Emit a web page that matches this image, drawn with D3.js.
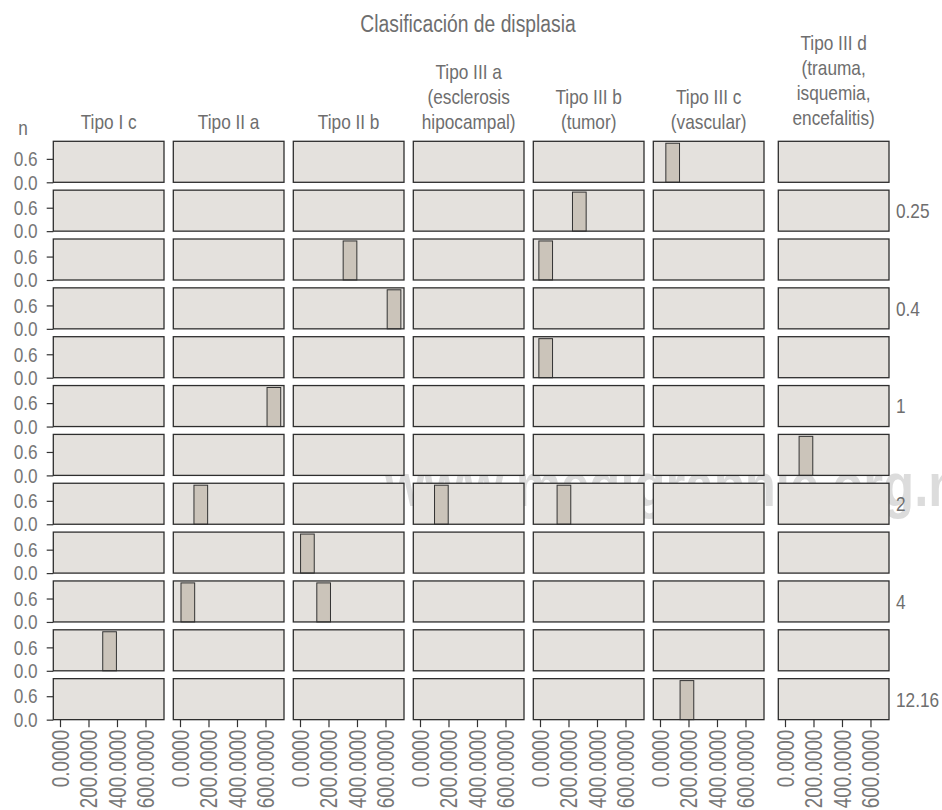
<!DOCTYPE html>
<html>
<head>
<meta charset="utf-8">
<script src="https://cdn.jsdelivr.net/npm/d3@7"></script>
<style>
  html, body { margin: 0; padding: 0; background: #fff; }
  svg { display: block; }
  text { font-family: "Liberation Sans", Arial, sans-serif; }
</style>
</head>
<body>
<svg id="chart" width="942" height="810"></svg>
<script>
// ---------------- data ----------------
const title = "Clasificación de displasia";
const yTitle = "n";
const columns = [
  "Tipo I c",
  "Tipo II a",
  "Tipo II b",
  "Tipo III a\n(esclerosis\nhipocampal)",
  "Tipo III b\n(tumor)",
  "Tipo III c\n(vascular)",
  "Tipo III d\n(trauma,\nisquemia,\nencefalitis)"
];
const rowLabels = ["", "0.25", "", "0.4", "", "1", "", "2", "", "4", "", "12.16"];
// one observation per panel: row index, column index, value (bin centre), count
const obsRow   = [0, 1, 2, 2, 3, 4, 5, 6, 7, 7, 7, 8, 9, 9, 10, 11];
const obsCol   = [5, 4, 2, 4, 2, 4, 1, 6, 1, 3, 4, 2, 1, 2, 0, 5];
const obsValue = [89, 276, 351, 40, 660, 40, 659, 147, 146, 150, 168, 52, 55, 166, 348, 189];
const obsCount = [1, 1, 1, 1, 1, 1, 1, 1, 1, 1, 1, 1, 1, 1, 1, 1];
const binWidth = 96;
const xTicks = [0, 200, 400, 600];
const yTicks = [0, 0.6];
const watermark = "www.medigraphic.org.mx";

// ---------------- layout ----------------
const panelW = 110.7, panelH = 41;
const colLeft = i => 53.3 + i * 120 + (i === 6 ? 5 : 0);
const rowTop = j => 141.3 + j * 48.85;

const x = d3.scaleLinear().domain([-47, 730]).range([0, panelW]);
const y = d3.scaleLinear().domain([0, 1.05]).range([panelH, 0]);

const textCol = "#6e6e6e";
const svg = d3.select("#chart");
const narrowNodes = [];

// watermark (behind panels)
narrowNodes.push(svg.append("text")
  .attr("x", 385).attr("y", 506)
  .style("font-weight", "bold")
  .style("font-size", "62px")
  .attr("fill", "#dcdcdc")
  .text(watermark).node());

// title
narrowNodes.push(svg.append("text")
  .attr("x", 468).attr("y", 32)
  .attr("text-anchor", "middle")
  .attr("fill", textCol)
  .style("font-size", "23.5px")
  .text(title).node());

// y title
narrowNodes.push(svg.append("text")
  .attr("x", 23).attr("y", 135)
  .attr("text-anchor", "middle")
  .attr("fill", textCol)
  .style("font-size", "21px")
  .text(yTitle).node());

// column strips
columns.forEach((lab, i) => {
  const lines = lab.split("\n");
  const t = svg.append("text")
    .attr("text-anchor", "middle")
    .attr("fill", textCol)
    .style("font-size", "21px");
  const cx = colLeft(i) + panelW / 2;
  const lastY = lines.length === 4 ? 125 : 129;
  lines.forEach((ln, k) => {
    narrowNodes.push(t.append("tspan")
      .attr("x", cx)
      .attr("y", lastY - (lines.length - 1 - k) * 25)
      .text(ln).node());
  });
});

// panels
for (let j = 0; j < rowLabels.length; j++) {
  for (let i = 0; i < columns.length; i++) {
    const g = svg.append("g").attr("transform", `translate(${colLeft(i)},${rowTop(j)})`);
    g.append("rect")
      .attr("x", 0).attr("y", 0).attr("width", panelW).attr("height", panelH)
      .attr("fill", "#e4e1dd");
    // bars
    obsRow.forEach((r, k) => {
      if (r === j && obsCol[k] === i) {
        const v = obsValue[k];
        g.append("rect")
          .attr("x", x(v - binWidth / 2))
          .attr("y", y(obsCount[k]))
          .attr("width", x(v + binWidth / 2) - x(v - binWidth / 2))
          .attr("height", y(0) - y(obsCount[k]))
          .attr("fill", "#cbc4ba")
          .attr("stroke", "#333")
          .attr("stroke-width", 1);
      }
    });
    g.append("rect")
      .attr("x", 0).attr("y", 0).attr("width", panelW).attr("height", panelH)
      .attr("fill", "none").attr("stroke", "#2e2e2e").attr("stroke-width", 1.3);

    // y axis on first column
    if (i === 0) {
      const ay = g.append("g").call(d3.axisLeft(y).tickValues(yTicks).tickFormat(d3.format(".1f")).tickSize(6.6).tickPadding(9));
      ay.select(".domain").remove();
      ay.selectAll("line").attr("stroke", "#333").attr("stroke-width", 1.2);
      ay.selectAll("text").attr("fill", "#777").style("font-size", "21px")
        .style("font-family", "'Liberation Sans', Arial, sans-serif")
        .each(function () { narrowNodes.push(this); });
    }
    // x axis on last row
    if (j === rowLabels.length - 1) {
      const ax = g.append("g").attr("transform", `translate(0,${panelH})`)
        .call(d3.axisBottom(x).tickValues(xTicks).tickFormat(d3.format(".4f")).tickSize(7.5).tickPadding(4));
      ax.select(".domain").remove();
      ax.selectAll("line").attr("stroke", "#333").attr("stroke-width", 1.2);
      ax.selectAll("text")
        .attr("fill", "#777")
        .style("font-size", "23px")
        .style("font-family", "'Liberation Sans', Arial, sans-serif")
        .attr("text-anchor", "end")
        .attr("transform", "rotate(-90)")
        .attr("x", -10).attr("y", 0).attr("dy", "0.36em")
        .each(function () { narrowNodes.push(this); });
    }
  }
  // row strip labels
  narrowNodes.push(svg.append("text")
    .attr("x", 896).attr("y", rowTop(j) + panelH / 2)
    .attr("dy", "0.35em")
    .attr("fill", textCol)
    .style("font-size", "21px")
    .text(rowLabels[j]).node());
}

// mimic a narrow (condensed) face: compress glyphs to 82% of their width
narrowNodes.forEach(n => {
  const len = n.getComputedTextLength();
  if (len > 0) {
    d3.select(n).attr("textLength", (len * 0.82).toFixed(2)).attr("lengthAdjust", "spacingAndGlyphs");
  }
});
</script>
</body>
</html>
